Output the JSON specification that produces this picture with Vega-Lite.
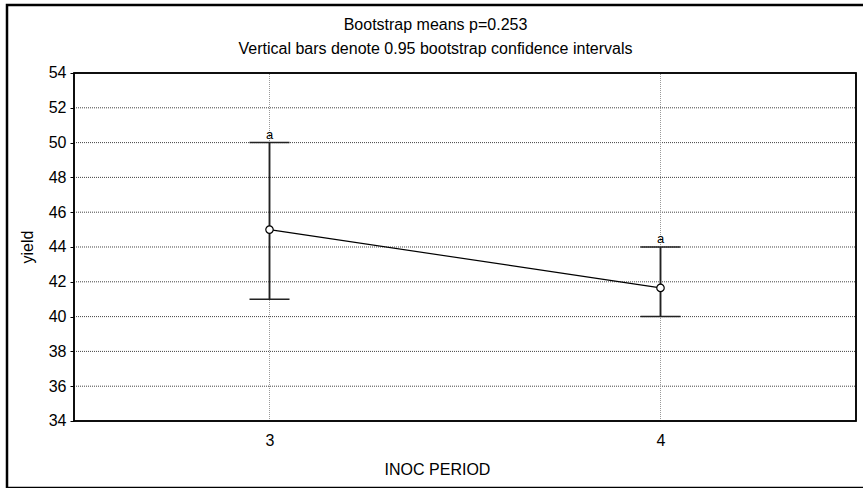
{
  "$schema": "https://vega.github.io/schema/vega-lite/v6.json",
  "autosize": "none",
  "width": 860,
  "height": 483,
  "padding": {"left": 7, "top": 5, "right": 0, "bottom": 0},
  "background": "white",
  "config": {
    "font": "Liberation Sans",
    "view": {"stroke": "black", "strokeWidth": 2.5},
    "axis": {"grid": false, "domain": false}
  },
  "title": {
    "text": ["Bootstrap means p=0.253", "Vertical bars denote 0.95 bootstrap confidence intervals"],
    "fontSize": 16,
    "fontWeight": "normal",
    "color": "black",
    "anchor": "middle",
    "frame": "group",
    "baseline": "top",
    "offset": -52,
    "lineHeight": 24,
    "dx": -1.5
  },
  "datasets": {
    "means": [
      {"period": 3, "mean": 45, "lo": 41, "hi": 50, "grp": "a"},
      {"period": 4, "mean": 41.65, "lo": 40, "hi": 44, "grp": "a"}
    ],
    "grid": [{"g": 36}, {"g": 38}, {"g": 40}, {"g": 42}, {"g": 44}, {"g": 46}, {"g": 48}, {"g": 50}, {"g": 52}]
  },
  "layer": [
    {
      "data": {"name": "means"},
      "mark": {"type": "rule", "color": "#222", "strokeWidth": 1.5},
      "encoding": {
        "x": {
          "field": "period", "type": "quantitative",
          "scale": {"domain": [2.32864, 4.52813], "nice": false, "zero": false},
          "axis": {
            "values": [3, 4], "offset": -67, "domain": false, "grid": false, "tickSize": 0,
            "labelPadding": 11, "labelFontSize": 16, "labelColor": "black", "format": "d",
            "title": "INOC PERIOD", "titleFontSize": 16, "titleFontWeight": "normal", "titleColor": "black", "titlePadding": 13
          }
        },
        "y": {
          "field": "lo", "type": "quantitative",
          "scale": {"domain": [30.1494, 57.908], "nice": false, "zero": false},
          "axis": {
            "values": [34, 36, 38, 40, 42, 44, 46, 48, 50, 52, 54], "offset": -67, "domain": false, "grid": false,
            "tickSize": 4, "tickColor": "black", "labelPadding": 4, "labelFontSize": 16, "labelColor": "black",
            "title": "yield", "titleFontSize": 16, "titleFontWeight": "normal", "titleColor": "black", "titlePadding": 13
          }
        },
        "y2": {"field": "hi"}
      }
    },
    {
      "data": {"name": "grid"},
      "mark": {"type": "rule", "color": "#444", "strokeDash": [1, 1], "strokeWidth": 1},
      "encoding": {
        "y": {"field": "g", "type": "quantitative"},
        "x": {"datum": 2.5, "type": "quantitative"},
        "x2": {"datum": 4.5}
      }
    },
    {
      "data": {"name": "means"},
      "mark": {"type": "rule", "color": "#999", "strokeDash": [1, 1], "strokeWidth": 1},
      "encoding": {
        "x": {"field": "period", "type": "quantitative"},
        "y": {"datum": 34, "type": "quantitative"},
        "y2": {"datum": 54}
      }
    },
    {
      "data": {"name": "means"},
      "mark": {"type": "rect", "fill": null, "fillOpacity": 0, "stroke": "black", "strokeWidth": 1.5},
      "encoding": {
        "x": {"datum": 2.5, "type": "quantitative"},
        "x2": {"datum": 4.5},
        "y": {"datum": 34, "type": "quantitative"},
        "y2": {"datum": 54}
      }
    },
    {
      "data": {"name": "means"},
      "mark": {"type": "rule", "color": "#222", "strokeWidth": 1.5},
      "encoding": {
        "x": {"field": "period", "type": "quantitative"},
        "y": {"field": "lo", "type": "quantitative"},
        "y2": {"field": "hi"}
      }
    },
    {
      "data": {"name": "means"},
      "mark": {"type": "tick", "orient": "horizontal", "size": 40, "thickness": 1.5, "color": "#222", "opacity": 1},
      "encoding": {
        "x": {"field": "period", "type": "quantitative"},
        "y": {"field": "hi", "type": "quantitative"}
      }
    },
    {
      "data": {"name": "means"},
      "mark": {"type": "tick", "orient": "horizontal", "size": 40, "thickness": 1.5, "color": "#222", "opacity": 1},
      "encoding": {
        "x": {"field": "period", "type": "quantitative"},
        "y": {"field": "lo", "type": "quantitative"}
      }
    },
    {
      "data": {"name": "means"},
      "mark": {"type": "line", "color": "black", "strokeWidth": 1.2},
      "encoding": {
        "x": {"field": "period", "type": "quantitative"},
        "y": {"field": "mean", "type": "quantitative"}
      }
    },
    {
      "data": {"name": "means"},
      "mark": {"type": "point", "shape": "circle", "filled": true, "fill": "white", "stroke": "black", "strokeWidth": 1.2, "size": 55, "opacity": 1},
      "encoding": {
        "x": {"field": "period", "type": "quantitative"},
        "y": {"field": "mean", "type": "quantitative"}
      }
    },
    {
      "data": {"name": "means"},
      "mark": {"type": "text", "fontSize": 13, "color": "black", "baseline": "alphabetic", "dy": -4},
      "encoding": {
        "x": {"field": "period", "type": "quantitative"},
        "y": {"field": "hi", "type": "quantitative"},
        "text": {"field": "grp"}
      }
    }
  ]
}
